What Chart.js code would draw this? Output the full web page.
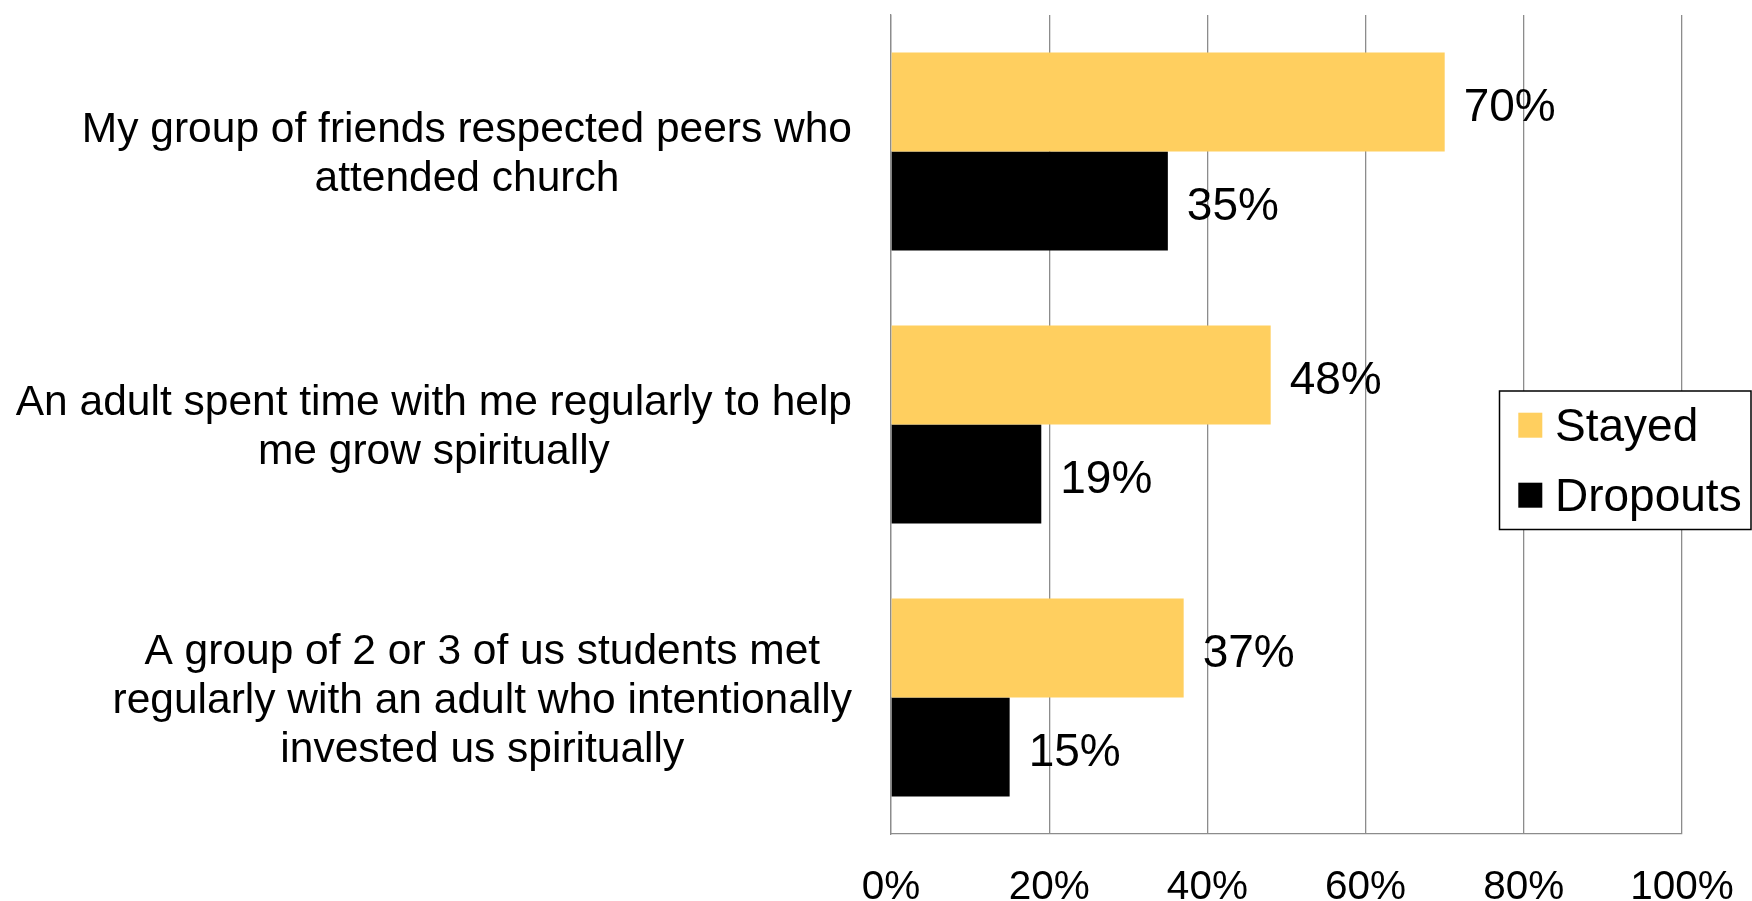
<!DOCTYPE html>
<html>
<head>
<meta charset="utf-8">
<script src="https://cdn.jsdelivr.net/npm/chart.js@4/dist/chart.umd.min.js"></script>
<style>
  html, body { margin: 0; padding: 0; background: #ffffff; }
  #c { display: block; }
</style>
</head>
<body>
<canvas id="c" width="1752" height="901"></canvas>
<script>
const categories = [
  ["My group of friends respected peers who", "attended church"],
  ["An adult spent time with me regularly to help", "me grow spiritually"],
  ["A group of 2 or 3 of us students met", "regularly with an adult who intentionally", "invested us spiritually"]
];
const seriesNames = ["Stayed", "Dropouts"];
const stayed = [70, 48, 37];
const dropouts = [35, 19, 15];
const tickLabels = ["0%", "20%", "40%", "60%", "80%", "100%"];

const FONT = '"Liberation Sans", Arial, sans-serif';
const GRID = '#8c8c8c';

const categoryLabelPlugin = {
  id: 'categoryLabels',
  afterDraw(chart) {
    const ctx = chart.ctx;
    const yScale = chart.scales.y;
    const size = 42.5, lineH = 48.8;
    ctx.save();
    ctx.font = size + 'px ' + FONT;
    ctx.fillStyle = '#000';
    ctx.textAlign = 'center';
    ctx.textBaseline = 'alphabetic';
    const rightEdge = chart.chartArea.left - 39;
    categories.forEach((lines, i) => {
      const y = yScale.getPixelForTick(i);
      const widest = Math.max(...lines.map(l => ctx.measureText(l).width));
      const cx = rightEdge - widest / 2;
      const n = lines.length;
      lines.forEach((l, k) => {
        const by = y + (k - (n - 1) / 2) * lineH + size * 0.716 / 2;
        ctx.fillText(l, cx, by);
      });
    });
    ctx.restore();
  }
};

const dataLabelPlugin = {
  id: 'dataLabels',
  afterDatasetsDraw(chart) {
    const ctx = chart.ctx;
    ctx.save();
    ctx.font = '46px ' + FONT;
    ctx.fillStyle = '#000';
    ctx.textAlign = 'left';
    ctx.textBaseline = 'alphabetic';
    chart.data.datasets.forEach((ds, di) => {
      const meta = chart.getDatasetMeta(di);
      meta.data.forEach((bar, i) => {
        ctx.fillText(ds.data[i] + '%', bar.x + 19, bar.y + 46 * 0.716 / 2 + 3);
      });
    });
    ctx.restore();
  }
};

const legendPlugin = {
  id: 'customLegend',
  afterDraw(chart) {
    const ctx = chart.ctx;
    ctx.save();
    const bx = 1499.5, by = 391, bw = 251.5, bh = 138.5;
    ctx.fillStyle = '#fff';
    ctx.fillRect(bx, by, bw, bh);
    ctx.strokeStyle = '#000';
    ctx.lineWidth = 1.5;
    ctx.strokeRect(bx, by, bw, bh);
    ctx.font = '46px ' + FONT;
    ctx.textBaseline = 'alphabetic';
    ctx.textAlign = 'left';
    chart.data.datasets.forEach((ds, i) => {
      const top = 412.7 + i * 70;
      ctx.fillStyle = ds.backgroundColor;
      ctx.fillRect(1518.3, top, 24, 25);
      ctx.fillStyle = '#000';
      ctx.fillText(ds.label, 1555, top + 28.5);
    });
    ctx.restore();
  }
};

new Chart(document.getElementById('c'), {
  type: 'bar',
  data: {
    labels: categories,
    datasets: [
      { label: seriesNames[0], data: stayed, backgroundColor: '#FFCF5F', borderWidth: 0 },
      { label: seriesNames[1], data: dropouts, backgroundColor: '#000000', borderWidth: 0 }
    ]
  },
  options: {
    indexAxis: 'y',
    responsive: false,
    animation: false,
    events: [],
    layout: { padding: { top: 15, right: 70, bottom: 0, left: 0 } },
    datasets: { bar: { categoryPercentage: 0.725, barPercentage: 1.0 } },
    plugins: { legend: { display: false }, tooltip: { enabled: false } },
    scales: {
      x: {
        min: 0, max: 100,
        ticks: {
          stepSize: 20,
          color: '#000',
          font: { family: FONT, size: 40.5 },
          padding: 30,
          maxRotation: 0,
          callback: (v, i) => tickLabels[i]
        },
        grid: { color: GRID, lineWidth: 1.3, drawTicks: false },
        border: { display: true, color: GRID, width: 1.3 },
        afterFit: (s) => { s.height = 67; s.paddingLeft = 0; s.paddingRight = 0; }
      },
      y: {
        ticks: { display: false },
        grid: { display: false, drawTicks: false },
        border: { display: true, color: GRID, width: 1.3 },
        afterFit: (s) => { s.width = 891; }
      }
    }
  },
  plugins: [categoryLabelPlugin, dataLabelPlugin, legendPlugin]
});
</script>
</body>
</html>
